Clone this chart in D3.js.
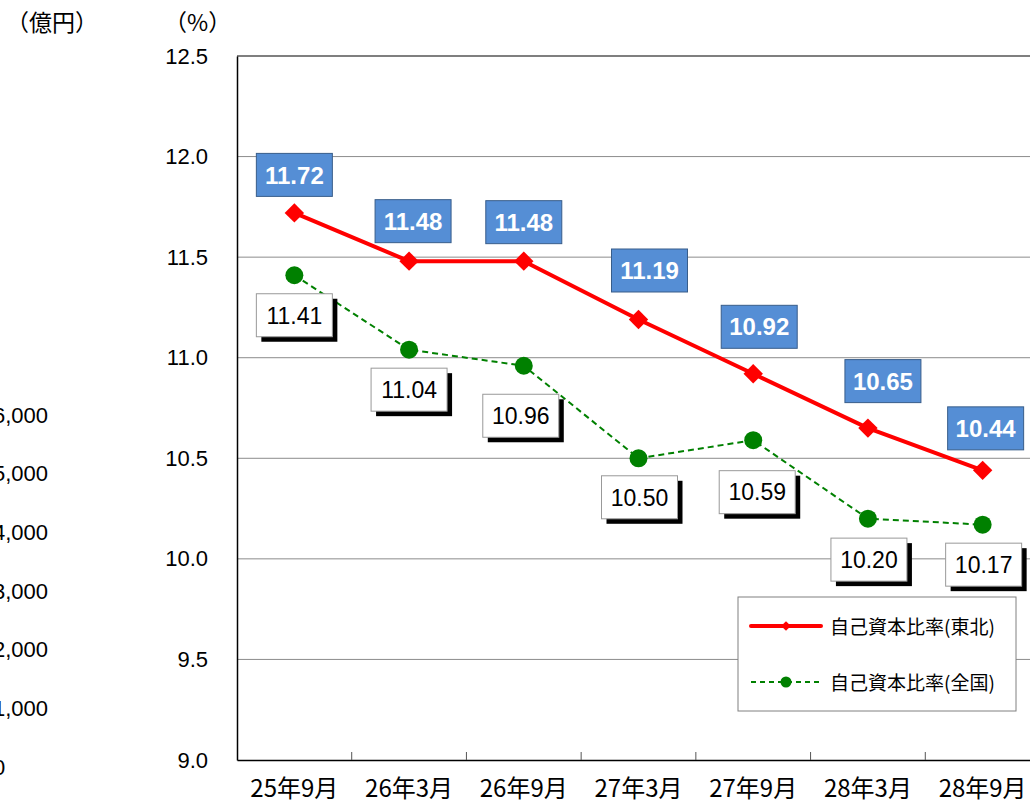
<!DOCTYPE html>
<html>
<head>
<meta charset="utf-8">
<script src="https://cdn.jsdelivr.net/npm/d3@7"></script>
<style>
  body { margin: 0; background: #fff; }
  svg { display: block; }
</style>
</head>
<body>
<div id="chart"></div>
<script>
// data
var periods = ["25年9月", "26年3月", "26年9月", "27年3月", "27年9月", "28年3月", "28年9月"];
var tohoku = [11.72, 11.48, 11.48, 11.19, 10.92, 10.65, 10.44];
var zenkoku = [11.41, 11.04, 10.96, 10.50, 10.59, 10.20, 10.17];
var pctTicks = [9.0, 9.5, 10.0, 10.5, 11.0, 11.5, 12.0, 12.5];
var okuTicks = [0, 1000, 2000, 3000, 4000, 5000, 6000];
var seriesNames = ["自己資本比率(東北)", "自己資本比率(全国)"];

// label nudges (pixels), as placed by hand in the original
var tNudge = [[0, -38], [4, -40], [0, -39], [11, -49], [6, -47], [15, -47], [3, -42]];
var zNudge = [[0, 40], [0, 40], [-3, 50], [1, 39], [4, 52], [1, 41], [1, 40]];

var W = 1030, H = 804;
var pLeft = 237, pTop = 56, pBottom = 760, pRight = 1040;
var font = "'Liberation Sans', Arial, sans-serif";
var jfont = "'Noto Sans CJK JP', sans-serif";

var svg = d3.select("#chart")
  .append("svg")
    .attr("width", W)
    .attr("height", H);

var x = d3.scaleBand()
    .domain(periods)
    .range([pLeft, pRight]);

var y = d3.scaleLinear()
    .domain([9.0, 12.5])
    .range([pBottom, pTop]);

var yOku = d3.scaleLinear()
    .domain([0, 6000])
    .range([767, 415]);

// grid lines
svg.selectAll(".grid")
    .data(pctTicks.filter(function(d) { return d > 9.0 && d < 12.5; }))
  .enter().append("line")
    .attr("x1", pLeft)
    .attr("x2", pRight)
    .attr("y1", function(d) { return y(d); })
    .attr("y2", function(d) { return y(d); })
    .attr("stroke", "#8c8c8c")
    .attr("stroke-width", 1);

// top frame line
svg.append("line")
    .attr("x1", pLeft).attr("x2", pRight)
    .attr("y1", y(12.5)).attr("y2", y(12.5))
    .attr("stroke", "#555")
    .attr("stroke-width", 1.5);

// left axis
var yAxis = svg.append("g")
    .attr("transform", "translate(" + pLeft + ",0)")
    .call(d3.axisLeft(y).tickValues(pctTicks).tickSize(0).tickPadding(29)
      .tickFormat(d3.format(".1f")));
yAxis.select(".domain").attr("stroke", "#000").attr("stroke-width", 1.5);
yAxis.selectAll("text")
    .attr("font-family", font)
    .attr("font-size", "22px")
    .attr("fill", "#000");

// secondary axis of a neighbouring chart, only its labels show at the left edge
var okuAxis = svg.append("g")
    .attr("transform", "translate(-7,0)")
    .call(d3.axisRight(yOku).tickValues(okuTicks).tickSize(0).tickPadding(0)
      .tickFormat(d3.format(",")));
okuAxis.select(".domain").remove();
okuAxis.selectAll("text")
    .attr("font-family", font)
    .attr("font-size", "22px")
    .attr("fill", "#000");

// bottom axis
var xAxis = svg.append("g")
    .attr("transform", "translate(0," + pBottom + ")")
    .call(d3.axisBottom(x).tickSize(0).tickPadding(20));
xAxis.select(".domain").attr("stroke", "#000").attr("stroke-width", 1.5);
xAxis.selectAll("text")
    .attr("font-family", jfont)
    .attr("font-size", "24px")
    .attr("fill", "#000");

svg.selectAll(".xtick")
    .data(periods.slice(1))
  .enter().append("line")
    .attr("x1", function(d) { return x(d); })
    .attr("x2", function(d) { return x(d); })
    .attr("y1", pBottom)
    .attr("y2", pBottom - 8)
    .attr("stroke", "#555")
    .attr("stroke-width", 1);

// unit labels
svg.append("text")
    .attr("x", 6).attr("y", 31)
    .attr("font-family", jfont)
    .attr("font-size", "23px")
    .text("（億円）");
svg.append("text")
    .attr("x", 164).attr("y", 31)
    .attr("font-family", jfont)
    .attr("font-size", "23px")
    .text("（%）");

function cx(d, i) { return x(periods[i]) + x.bandwidth() / 2; }

var line = d3.line()
    .x(function(d, i) { return cx(d, i); })
    .y(function(d) { return y(d); });

// national series
svg.append("path")
    .datum(zenkoku)
    .attr("d", line)
    .attr("fill", "none")
    .attr("stroke", "#008000")
    .attr("stroke-width", 2)
    .attr("stroke-dasharray", "6,4");

svg.selectAll(".zpt")
    .data(zenkoku)
  .enter().append("circle")
    .attr("cx", cx)
    .attr("cy", function(d) { return y(d); })
    .attr("r", 9)
    .attr("fill", "#008000");

// tohoku series
svg.append("path")
    .datum(tohoku)
    .attr("d", line)
    .attr("fill", "none")
    .attr("stroke", "#ff0000")
    .attr("stroke-width", 4);

var diamond = d3.symbol().type(d3.symbolDiamond2).size(240);
svg.selectAll(".tpt")
    .data(tohoku)
  .enter().append("path")
    .attr("d", diamond)
    .attr("transform", function(d, i) { return "translate(" + cx(d, i) + "," + y(d) + ")"; })
    .attr("fill", "#ff0000");

var bw = 76, bh = 43;

// tohoku labels (blue boxes)
var tl = svg.selectAll(".tlab")
    .data(tohoku)
  .enter().append("g")
    .attr("transform", function(d, i) {
      return "translate(" + (cx(d, i) + tNudge[i][0]) + "," + (y(d) + tNudge[i][1]) + ")";
    });
tl.append("rect")
    .attr("x", -bw / 2).attr("y", -bh / 2)
    .attr("width", bw).attr("height", bh)
    .attr("fill", "#558ed5")
    .attr("stroke", "#385d8a")
    .attr("stroke-width", 1);
tl.append("text")
    .attr("text-anchor", "middle")
    .attr("dy", "0.36em")
    .attr("font-family", font)
    .attr("font-size", "24px")
    .attr("font-weight", "bold")
    .attr("fill", "#fff")
    .text(function(d) { return d.toFixed(2); });

// national labels (white boxes with shadow)
var zl = svg.selectAll(".zlab")
    .data(zenkoku)
  .enter().append("g")
    .attr("transform", function(d, i) {
      return "translate(" + (cx(d, i) + zNudge[i][0]) + "," + (y(d) + zNudge[i][1]) + ")";
    });
zl.append("rect")
    .attr("x", -bw / 2 + 5).attr("y", -bh / 2 + 5)
    .attr("width", bw).attr("height", bh)
    .attr("fill", "#000");
zl.append("rect")
    .attr("x", -bw / 2).attr("y", -bh / 2)
    .attr("width", bw).attr("height", bh)
    .attr("fill", "#fff")
    .attr("stroke", "#999")
    .attr("stroke-width", 1);
zl.append("text")
    .attr("text-anchor", "middle")
    .attr("dy", "0.36em")
    .attr("font-family", font)
    .attr("font-size", "23px")
    .attr("fill", "#000")
    .text(function(d) { return d.toFixed(2); });

// legend
var lg = svg.append("g").attr("transform", "translate(738,597)");
lg.append("rect")
    .attr("width", 278).attr("height", 114)
    .attr("fill", "#fff")
    .attr("stroke", "#808080")
    .attr("stroke-width", 1);

lg.append("line")
    .attr("x1", 13).attr("x2", 83).attr("y1", 29).attr("y2", 29)
    .attr("stroke", "#ff0000").attr("stroke-width", 4).attr("stroke-linecap", "round");
lg.append("path")
    .attr("d", d3.symbol().type(d3.symbolDiamond2).size(60))
    .attr("transform", "translate(48,29)")
    .attr("fill", "#ff0000");

lg.append("line")
    .attr("x1", 13).attr("x2", 83).attr("y1", 85).attr("y2", 85)
    .attr("stroke", "#008000").attr("stroke-width", 2).attr("stroke-dasharray", "5,4");
lg.append("circle")
    .attr("cx", 48).attr("cy", 85).attr("r", 5.5)
    .attr("fill", "#008000");

lg.selectAll(".ltxt")
    .data(seriesNames)
  .enter().append("text")
    .attr("x", 92)
    .attr("y", function(d, i) { return 30 + i * 56; })
    .attr("dy", "0.36em")
    .attr("font-family", jfont)
    .attr("font-size", "19px")
    .attr("fill", "#000")
    .text(function(d) { return d; });
</script>
</body>
</html>
